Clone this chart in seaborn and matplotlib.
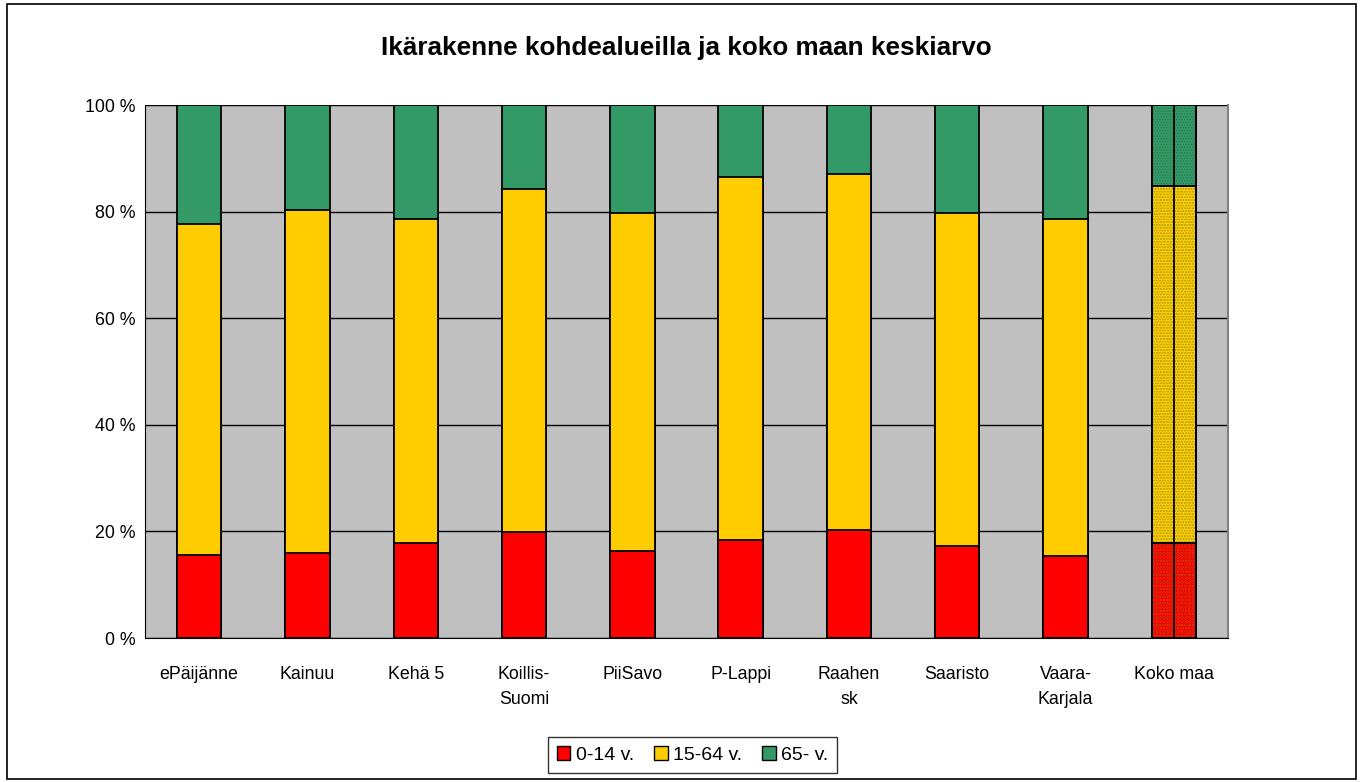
import numpy as np
import pandas as pd
import seaborn as sns
import matplotlib.pyplot as plt
from matplotlib.patches import Rectangle, Patch

alueet = ["ePäijänne", "Kainuu", "Kehä 5", "Koillis-\nSuomi", "PiiSavo",
          "P-Lappi", "Raahen\nsk", "Saaristo", "Vaara-\nKarjala", "Koko maa"]
lapset = [15.6, 15.9, 17.8, 19.9, 16.3, 18.4, 20.3, 17.3, 15.4, 17.8]    # 0-14 v.
tyoikaiset = [62.1, 64.4, 60.8, 64.3, 63.4, 68.1, 66.8, 62.4, 63.2, 67.0]  # 15-64 v.
vanhat = [22.3, 19.7, 21.4, 15.8, 20.3, 13.5, 12.9, 20.3, 21.4, 15.2]    # 65- v.
sarjat = ["0-14 v.", "15-64 v.", "65- v."]
varit = ["#FF0000", "#FFCC00", "#339966"]
tummat = ["#D00000", "#E0A800", "#267A50"]

df = pd.DataFrame({"alue": alueet, "a": lapset, "b": tyoikaiset, "c": vanhat})
df["b_cum"] = df["a"] + df["b"]
df["c_cum"] = df["b_cum"] + df["c"]

sns.set_style("white")
plt.rcParams["font.family"] = ["Liberation Sans", "DejaVu Sans"]
plt.rcParams["hatch.linewidth"] = 0.6
plt.rcParams["text.color"] = "black"
plt.rcParams["xtick.color"] = "black"
plt.rcParams["ytick.color"] = "black"

fig = plt.figure(figsize=(13.61, 7.82), dpi=100)
ax = fig.add_axes([0.1065, 0.1841, 0.7958, 0.6816])
ax.set_facecolor("#C0C0C0")
ax.set_axisbelow(True)
ax.yaxis.grid(True, color="black", linewidth=1)

# stacked: draw the cumulative totals from top layer down
for col, vari in zip(["c_cum", "b_cum", "a"], varit[::-1]):
    sns.barplot(data=df, x="alue", y=col, color=vari, width=0.41,
                edgecolor="black", linewidth=1.3, saturation=1, ax=ax)

# Koko maa drawn dotted with a divider in the middle
n = len(alueet)
for i, tumma in enumerate(tummat[::-1]):
    p = ax.patches[i * n + n - 1]
    ax.add_patch(Rectangle(p.get_xy(), p.get_width(), p.get_height(), fill=False,
                           hatch="......", edgecolor=tumma, linewidth=0, zorder=p.get_zorder() + 0.1))
    ax.add_patch(Rectangle(p.get_xy(), p.get_width(), p.get_height(), fill=False,
                           edgecolor="black", linewidth=1.3, zorder=p.get_zorder() + 0.2))
ax.vlines(n - 1, 0, df["c_cum"].iloc[-1], color="black", linewidth=1.3, zorder=5)

ax.set_ylim(0, 100)
ax.set_xlim(-0.5, n - 0.5)
ax.set_yticks(np.arange(0, 101, 20))
ax.set_yticklabels([f"{v} %" for v in range(0, 101, 20)], fontsize=12.8)
ax.set_xticks(np.arange(n))
ax.set_xticklabels(alueet, fontsize=12.8, linespacing=1.65)
ax.set_xticks(np.arange(n + 1) - 0.5, minor=True)
ax.tick_params(axis="x", which="major", length=0, pad=20, labelcolor="black")
ax.tick_params(axis="x", which="minor", length=5, color="black", direction="out")
ax.tick_params(axis="y", length=4.5, color="black", direction="out", pad=2.5, labelcolor="black")
ax.set_xlabel("")
ax.set_ylabel("")

ax.spines["top"].set_visible(False)
ax.spines["right"].set_color("#808080")
ax.spines["right"].set_linewidth(1.5)
ax.spines["left"].set_color("black")
ax.spines["bottom"].set_color("black")

fig.text(0.5045, 0.938, "Ikärakenne kohdealueilla ja koko maan keskiarvo",
         ha="center", va="center", fontsize=18.8, fontweight="bold", color="black")

kasit = [Patch(facecolor=v, edgecolor="black", linewidth=1) for v in varit]
leg = fig.legend(kasit, sarjat, loc="center", bbox_to_anchor=(0.509, 0.0345), ncol=3,
                 fontsize=14, frameon=True, fancybox=False, edgecolor="black",
                 handlelength=0.7, handleheight=0.7, handletextpad=0.3,
                 columnspacing=1.0, borderpad=0.45, borderaxespad=0, labelcolor="black")
leg.get_frame().set_linewidth(1)

fig.add_artist(Rectangle((0.005, 0.004), 0.991, 0.991, transform=fig.transFigure,
                         fill=False, edgecolor="black", linewidth=1.2))

fig.savefig("out.png", dpi=100)
